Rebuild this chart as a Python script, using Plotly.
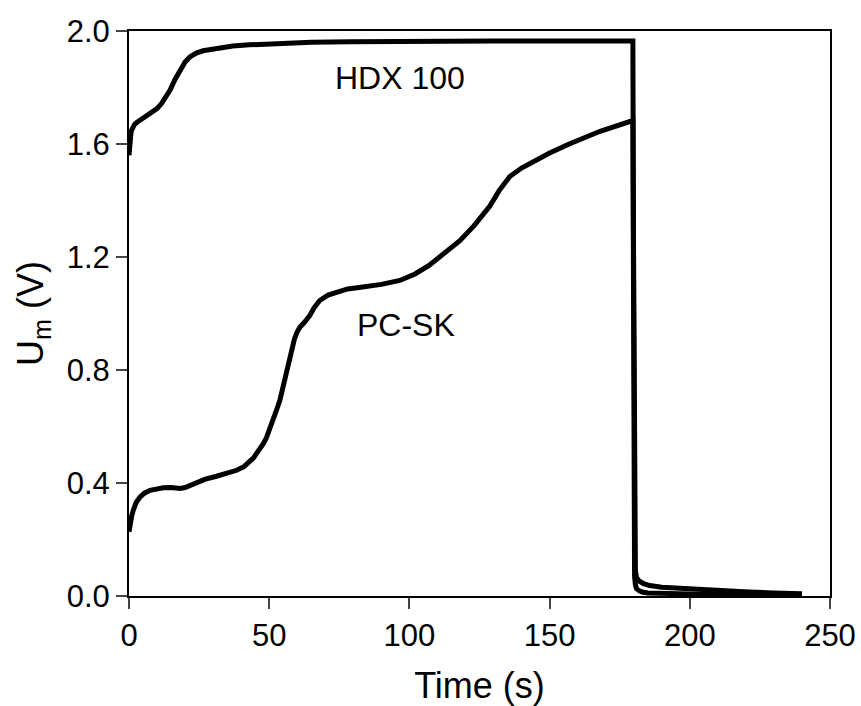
import plotly.graph_objects as go

# HDX 100 curve
hdx_t = [0, 0.3, 0.7, 1, 1.5, 2, 3, 3.9, 5, 6, 7.5, 8.7, 10, 11.6, 13, 14.6, 16.5, 18.2, 19, 20, 21.7, 23, 24, 26.4, 30, 33, 37, 43, 50, 65, 78.8, 100, 130, 160, 179.7,
         179.9, 180.1, 180.3, 180.6, 181, 182, 183.5, 185.7, 190, 197.6, 210, 221, 230, 240]
hdx_u = [1.56, 1.62, 1.64, 1.65, 1.66, 1.67, 1.678, 1.684, 1.69, 1.697, 1.705, 1.713, 1.725, 1.743, 1.762, 1.79, 1.83, 1.86, 1.875, 1.89, 1.908, 1.916, 1.922, 1.93, 1.937, 1.942, 1.947, 1.951, 1.955, 1.96, 1.962, 1.964, 1.965, 1.965, 1.965,
         1.3, 0.4, 0.16, 0.09, 0.065, 0.052, 0.044, 0.037, 0.031, 0.026, 0.019, 0.014, 0.011, 0.008]

# PC-SK curve
pc_t = [0, 0.5, 1, 1.5, 2.5, 3.9, 5.5, 7.5, 10, 12.2, 15, 18.2, 20, 22, 24, 27, 31.2, 35, 38.4, 41, 43.1, 44.5, 45.5, 47, 47.9, 49, 50, 51.5, 52.5, 53.8,
        55.5, 57.4, 59, 60, 61, 62.5, 64.5, 66, 68, 71, 75, 78, 82, 90, 96.6, 102, 107, 112, 118, 123, 128.7, 132, 135.8, 140, 146.5, 150, 157, 168, 179.7,
        179.9, 180.1, 180.3, 180.6, 181, 182, 183, 185, 190, 200, 220, 240]
pc_u = [0.227, 0.265, 0.285, 0.303, 0.33, 0.35, 0.364, 0.374, 0.38, 0.383, 0.384, 0.381, 0.384, 0.393, 0.403, 0.413, 0.424, 0.434, 0.445, 0.458, 0.474, 0.49, 0.505, 0.525, 0.539, 0.56, 0.585, 0.622, 0.655, 0.693,
        0.77, 0.85, 0.91, 0.935, 0.952, 0.968, 0.993, 1.02, 1.046, 1.065, 1.08, 1.087, 1.092, 1.103, 1.117, 1.14, 1.17, 1.21, 1.258, 1.31, 1.38, 1.435, 1.485, 1.515, 1.55, 1.568, 1.6, 1.645, 1.683,
        1.0, 0.2, 0.07, 0.04, 0.026, 0.018, 0.014, 0.011, 0.009, 0.007, 0.005, 0.004]

x_ticks = [0, 50, 100, 150, 200, 250]
y_ticks = [0.0, 0.4, 0.8, 1.2, 1.6, 2.0]
y_tick_labels = ["0.0", "0.4", "0.8", "1.2", "1.6", "2.0"]

labels = [("HDX 100", 96.6, 1.835), ("PC-SK", 98.8, 0.958)]

FONT = "Liberation Sans, Arial, sans-serif"

fig = go.Figure()
for t, u in [(hdx_t, hdx_u), (pc_t, pc_u)]:
    fig.add_trace(go.Scatter(x=t, y=u, mode="lines",
                             line=dict(color="black", width=5, shape="linear"),
                             showlegend=False, hoverinfo="skip"))

for txt, x, y in labels:
    fig.add_annotation(x=x, y=y, text=txt, showarrow=False,
                       font=dict(family=FONT, size=32, color="black"))

fig.update_layout(
    width=861, height=706,
    margin=dict(l=129, r=31, t=31, b=110),
    paper_bgcolor="white", plot_bgcolor="white",
    font=dict(family=FONT, color="black"),
)
fig.update_xaxes(range=[0, 250], tickvals=x_ticks, ticks="outside", ticklen=11, tickwidth=2,
                 showline=True, linecolor="black", linewidth=2, mirror=True,
                 showgrid=False, zeroline=False, automargin=False,
                 tickfont=dict(size=31, family=FONT, color="black"),
                 title=dict(text="Time (s)", font=dict(size=36, family=FONT, color="black"), standoff=24))
fig.update_yaxes(range=[0, 2.0], tickvals=y_ticks, ticktext=y_tick_labels, ticks="outside", ticklen=11, tickwidth=2,
                 showline=True, linecolor="black", linewidth=2, mirror=True,
                 showgrid=False, zeroline=False, automargin=False,
                 tickfont=dict(size=31, family=FONT, color="black"),
                 title=dict(text="U<sub>m</sub> (V)", font=dict(size=36, family=FONT, color="black"), standoff=12))

fig.write_html("out.html")
